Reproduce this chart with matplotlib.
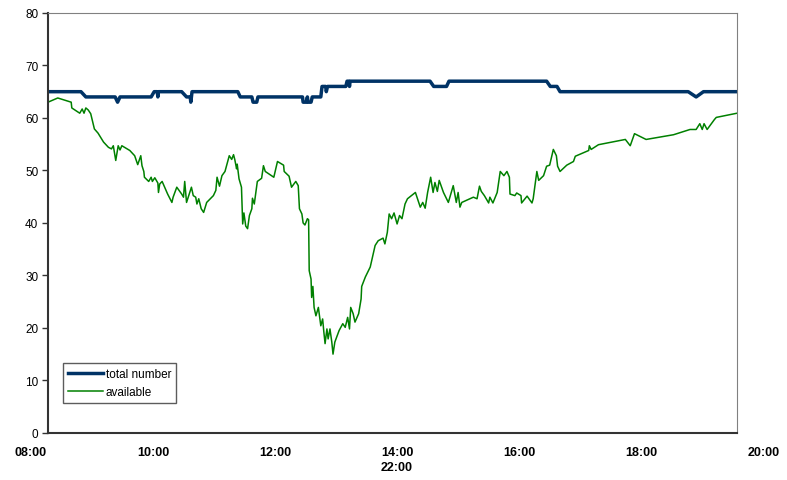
import matplotlib
matplotlib.use("Agg")
import matplotlib.pyplot as plt
import matplotlib.transforms as mtransforms

# time in decimal hours
avail_t = [8.28, 8.44, 8.66, 8.67, 8.80, 8.84, 8.87, 8.90, 8.94, 8.98,
           9.04, 9.10, 9.19, 9.27, 9.32, 9.35, 9.39, 9.43, 9.46, 9.49,
           9.62, 9.70, 9.75, 9.80, 9.82, 9.85, 9.86, 9.93, 9.97, 9.99,
           10.03, 10.08, 10.09, 10.11, 10.15, 10.24, 10.31, 10.33, 10.39, 10.47,
           10.50, 10.52, 10.55, 10.63, 10.66, 10.70, 10.72, 10.75, 10.79, 10.83,
           10.88, 10.99, 11.03, 11.05, 11.09, 11.13, 11.18, 11.25, 11.29, 11.32,
           11.34, 11.37, 11.38, 11.41, 11.45, 11.47, 11.49, 11.52, 11.55, 11.58,
           11.62, 11.63, 11.66, 11.71, 11.78, 11.81, 11.84, 11.98, 12.04, 12.14,
           12.15, 12.23, 12.27, 12.34, 12.38, 12.40, 12.44, 12.46, 12.49, 12.53,
           12.55, 12.56, 12.59, 12.60, 12.62, 12.64, 12.67, 12.71, 12.75, 12.78,
           12.80, 12.82, 12.85, 12.87, 12.90, 12.93, 12.95, 12.98, 13.05, 13.11,
           13.15, 13.19, 13.22, 13.24, 13.28, 13.31, 13.37, 13.41, 13.42, 13.48,
           13.56, 13.64, 13.69, 13.77, 13.80, 13.84, 13.87, 13.91, 13.95, 14.00,
           14.04, 14.08, 14.13, 14.17, 14.30, 14.38, 14.42, 14.46, 14.50, 14.55,
           14.59, 14.62, 14.66, 14.69, 14.76, 14.84, 14.92, 14.97, 15.00, 15.03,
           15.06, 15.25, 15.31, 15.35, 15.38, 15.43, 15.50, 15.52, 15.57, 15.64,
           15.69, 15.75, 15.80, 15.84, 15.85, 15.93, 15.96, 16.03, 16.04, 16.13,
           16.21, 16.23, 16.29, 16.32, 16.40, 16.45, 16.50, 16.56, 16.61, 16.63,
           16.67, 16.78, 16.89, 16.92, 17.14, 17.15, 17.18, 17.30, 17.74, 17.82,
           17.89, 18.08, 18.53, 18.80, 18.90, 18.96, 19.00, 19.03, 19.08, 19.20,
           19.23, 19.57]
avail_v = [63.0, 63.8, 63.0, 61.9, 60.9, 61.7, 60.9, 61.9, 61.5, 60.8,
           57.9, 57.1, 55.4, 54.4, 54.1, 54.7, 51.9, 54.7, 53.9, 54.7,
           53.8, 52.8, 51.1, 52.8, 50.9, 49.8, 48.7, 47.9, 48.7, 47.9,
           48.6, 47.6, 45.8, 47.4, 47.9, 45.5, 43.9, 44.9, 46.8, 45.5,
           44.9, 47.9, 43.9, 46.8, 45.2, 44.9, 43.6, 44.6, 42.7, 42.0,
           43.9, 45.2, 46.2, 48.7, 47.0, 49.0, 49.8, 52.8, 52.1, 53.0,
           52.1, 50.3, 51.2, 48.4, 46.8, 39.8, 41.9, 39.4, 38.9, 41.4,
           42.7, 44.7, 43.6, 47.9, 48.5, 50.9, 49.8, 48.7, 51.7, 51.0,
           49.8, 48.9, 46.8, 47.9, 47.1, 42.7, 41.7, 40.0, 39.6, 40.8,
           40.6, 30.9, 29.3, 25.8, 27.9, 23.9, 22.3, 23.9, 20.4, 21.7,
           19.2, 17.0, 19.8, 17.9, 19.8, 17.3, 15.0, 17.3, 19.5, 20.8,
           20.1, 22.0, 19.8, 23.9, 22.7, 21.1, 22.7, 25.5, 27.9, 29.7,
           31.6, 35.7, 36.6, 37.1, 36.0, 38.2, 41.7, 40.8, 41.9, 39.8,
           41.4, 40.8, 43.6, 44.6, 45.8, 43.0, 43.9, 42.8, 45.8, 48.7,
           45.8, 47.7, 46.0, 48.1, 45.8, 43.9, 47.1, 43.9, 45.8, 43.0,
           43.9, 44.9, 44.6, 47.0, 46.0, 45.2, 43.8, 44.9, 43.8, 45.8,
           49.8, 49.0, 49.8, 48.7, 45.5, 45.2, 45.7, 45.2, 43.8, 45.1,
           43.8, 44.6, 49.8, 48.1, 49.0, 50.8, 51.0, 54.0, 52.8, 50.8,
           49.8, 51.0, 51.7, 52.7, 53.8, 54.7, 54.0, 54.9, 55.9, 54.7,
           57.0, 55.9, 56.8, 57.8, 57.8, 58.9, 57.8, 58.9, 57.8, 59.7,
           60.1, 60.9]

total_t = [8.28, 8.82, 8.90, 9.38, 9.42, 9.46, 9.97, 10.02, 10.07, 10.08,
           10.09, 10.47, 10.55, 10.61, 10.62, 10.64, 11.39, 11.43, 11.62, 11.64,
           11.70, 11.72, 12.45, 12.46, 12.51, 12.53, 12.54, 12.59, 12.61, 12.75,
           12.77, 12.83, 12.84, 12.86, 13.16, 13.18, 13.21, 13.22, 13.23, 14.54,
           14.60, 14.81, 14.85, 16.45, 16.51, 16.62, 16.67, 18.77, 18.90, 19.02,
           19.57]
total_v = [65, 65, 64, 64, 63, 64, 64, 65, 65, 64,
           65, 65, 64, 64, 63, 65, 65, 64, 64, 63,
           63, 64, 64, 63, 63, 64, 63, 63, 64, 64,
           66, 66, 65, 66, 66, 67, 67, 66, 67, 67,
           66, 66, 67, 67, 66, 66, 65, 65, 64, 65,
           65]

tick_hours = [8, 10, 12, 14, 16, 18, 20]
tick_labels = ["08:00", "10:00", "12:00", "14:00", "16:00", "18:00", "20:00"]

fig = plt.figure(figsize=(7.87, 4.81), dpi=100)
ax = fig.add_axes([0.061, 0.098, 0.8755, 0.873])

ax.plot(total_t, total_v, color="#003366", linewidth=2.5, label="total number")
ax.plot(avail_t, avail_v, color="#008000", linewidth=1.1, label="available")

ax.set_xlim(8.28, 19.57)
ax.set_ylim(0, 80)
ax.set_yticks(range(0, 81, 10))
ax.set_xticks([])
ax.tick_params(axis="y", direction="out", length=4, width=1, color="#333333",
               labelsize=8.5, pad=3)
for lbl in ax.get_yticklabels():
    lbl.set_family("Liberation Sans")

ax.spines["left"].set_color("#333333")
ax.spines["bottom"].set_color("#333333")
ax.spines["left"].set_linewidth(1.5)
ax.spines["bottom"].set_linewidth(1.5)
ax.spines["top"].set_color("#808080")
ax.spines["right"].set_color("#808080")

# x labels sit under the axis, some of them outside the plot area
trans = mtransforms.blended_transform_factory(ax.transData, ax.transAxes)
for h, lab in zip(tick_hours, tick_labels):
    ax.text(h, -0.045, lab, transform=trans, ha="center", va="center",
            fontsize=9, fontweight="bold", family="Liberation Sans", clip_on=False)
ax.text(14, -0.082, "22:00", transform=trans, ha="center", va="center",
        fontsize=9, fontweight="bold", family="Liberation Sans", clip_on=False)

leg = ax.legend(loc="lower left", bbox_to_anchor=(0.022, 0.071),
                frameon=True, fancybox=False, edgecolor="#333333",
                handlelength=2.9, handletextpad=0.25, borderpad=0.45,
                labelspacing=0.5, borderaxespad=0.0,
                prop={"family": "Liberation Sans", "size": 8.5})
leg.get_frame().set_linewidth(1.0)

fig.savefig("out.png", dpi=100)
